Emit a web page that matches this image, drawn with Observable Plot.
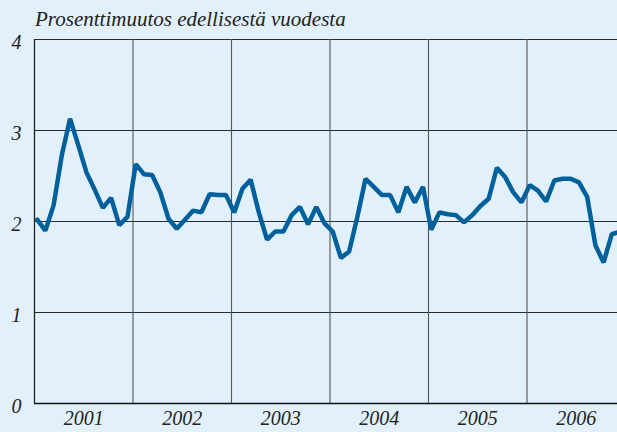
<!DOCTYPE html>
<html>
<head>
<meta charset="utf-8">
<script src="https://cdn.jsdelivr.net/npm/d3@7"></script>
<script src="https://cdn.jsdelivr.net/npm/@observablehq/plot@0.6"></script>
<style>
  html, body { margin: 0; padding: 0; background: #e1f0fa; }
  #wrap { position: relative; width: 617px; height: 432px; overflow: hidden; }
  #title { position: absolute; left: 35px; top: 7px; font-family: 'Liberation Serif', 'Times New Roman', serif; font-style: italic; font-size: 21px; line-height: 24px; color: #222; white-space: nowrap; }
  svg { display: block; }
</style>
</head>
<body>
<div id="wrap">
  <div id="title">Prosenttimuutos edellisestä vuodesta</div>
  <div id="chart"></div>
</div>
<script>
const years = [2001, 2002, 2003, 2004, 2005, 2006];
const v2001 = [2.02, 1.90, 2.18, 2.73, 3.13, 2.84, 2.54, 2.35, 2.15, 2.26, 1.96, 2.05];
const v2002 = [2.63, 2.52, 2.51, 2.32, 2.03, 1.92, 2.02, 2.12, 2.10, 2.30, 2.29, 2.29];
const v2003 = [2.10, 2.36, 2.46, 2.10, 1.80, 1.89, 1.89, 2.07, 2.16, 1.97, 2.16, 1.98];
const v2004 = [1.89, 1.60, 1.67, 2.05, 2.47, 2.38, 2.29, 2.29, 2.10, 2.38, 2.21, 2.38];
const v2005 = [1.91, 2.10, 2.08, 2.07, 1.99, 2.07, 2.17, 2.25, 2.59, 2.49, 2.32, 2.21];
const v2006 = [2.40, 2.34, 2.22, 2.45, 2.47, 2.47, 2.43, 2.27, 1.74, 1.55, 1.86, 1.89];
const yTicks = [0, 1, 2, 3, 4];

const series = [v2001, v2002, v2003, v2004, v2005, v2006];
const data = [];
series.forEach((vals, i) => vals.forEach((v, m) => data.push({x: years[i] + (m + 0.33) / 12, y: v})));

const font = "'Liberation Serif', 'Times New Roman', serif";
const chart = Plot.plot({
  width: 617,
  height: 432,
  marginLeft: 34,
  marginRight: 0,
  marginTop: 39,
  marginBottom: 29,
  style: {background: "transparent", fontFamily: font, fontSize: "20px", fontStyle: "italic", color: "#222"},
  x: {domain: [2001, 2001 + 583 / 98.5], axis: null},
  y: {domain: [0, 4], axis: null},
  marks: [
    Plot.ruleY([1, 2, 3, 4], {stroke: "#2a2a2a", strokeWidth: 1.1}),
    Plot.ruleX(years.slice(1), {stroke: "#555", strokeWidth: 1.1}),
    Plot.ruleX([2001], {stroke: "#222", strokeWidth: 1.3}),
    Plot.ruleY([0], {stroke: "#111", strokeWidth: 1.6}),
    Plot.axisY(yTicks, {label: null, tickSize: 0, tickPadding: 13, fontSize: 20, fontStyle: "italic", fontFamily: font, dy: 3, textAnchor: "end", tickFormat: d => String(d)}),
    Plot.text(years, {x: d => d + 0.5, y: 0, text: d => String(d), dy: 15, fontSize: 20, fontStyle: "italic", fontFamily: font, fill: "#222"}),
    Plot.line(data, {x: "x", y: "y", stroke: "#00609b", strokeWidth: 4.5, strokeLinejoin: "miter", clip: true})
  ]
});
document.getElementById("chart").appendChild(chart);
</script>
</body>
</html>
